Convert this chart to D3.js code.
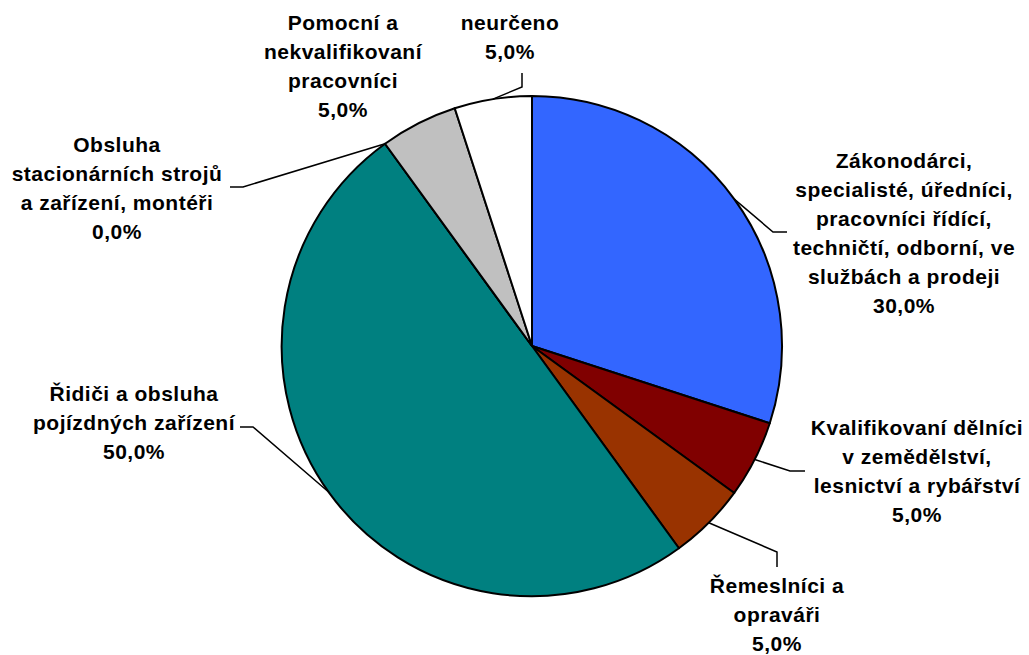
<!DOCTYPE html>
<html>
<head>
<meta charset="utf-8">
<script src="https://cdn.jsdelivr.net/npm/d3@7"></script>
<style>
  body { margin: 0; background: #fff; }
  svg { display: block; }
  text { font-family: "Liberation Sans", Arial, sans-serif; font-weight: bold; font-size: 21px; letter-spacing: 0.5px; fill: #000; }
</style>
</head>
<body>
<div id="chart"></div>
<script>
// data (clockwise from 12 o'clock)
var categories = [
	["Zákonodárci,", "specialisté, úředníci,", "pracovníci řídící,", "techničtí, odborní, ve", "službách a prodeji"],
	["Kvalifikovaní dělníci", "v zemědělství,", "lesnictví a rybářství"],
	["Řemeslníci a", "opraváři"],
	["Řidiči a obsluha", "pojízdných zařízení"],
	["Obsluha", "stacionárních strojů", "a zařízení, montéři"],
	["Pomocní a", "nekvalifikovaní", "pracovníci"],
	["neurčeno"]
]
var values = [30, 5, 5, 50, 0, 5, 5]
var colours = ["#3366ff", "#800000", "#993300", "#008080", "#9999ff", "#c0c0c0", "#ffffff"]

// label layout: text centre x, first baseline y, leader elbow + end (null = no leader)
var label_layout = [
	{x: 904, y: 168, elbow: [773, 232], end: [787, 232]},
	{x: 917, y: 435, elbow: [790, 471], end: [805, 471]},
	{x: 777, y: 593, elbow: [777, 552], end: [777, 567]},
	{x: 134, y: 401, elbow: [253, 427], end: [240, 427]},
	{x: 117, y: 152, elbow: [243, 187], end: [230, 187]},
	{x: 343, y: 30, elbow: null, end: null},
	{x: 510, y: 30, elbow: [522, 87], end: [522, 73]}
]

var width = 1029, height = 655
var cx = 532, cy = 346, radius = 250
var line_h = 29

var svg = d3.select("#chart").append("svg")
	.attr("width", width)
	.attr("height", height)

var pie = d3.pie().sort(null).value(function(d){ return d })
var arcs = pie(values)

var arc = d3.arc().innerRadius(0).outerRadius(radius)

var g = svg.append("g").attr("transform", "translate(" + cx + "," + cy + ")")

g.selectAll("path.slice")
	.data(arcs)
	.enter().append("path")
	.attr("class", "slice")
	.attr("d", arc)
	.attr("fill", function(d, i){ return colours[i] })
	.attr("stroke", "#000")
	.attr("stroke-width", 2)
	.attr("stroke-linejoin", "round")

// leader lines
arcs.forEach(function(d, i){
	var lay = label_layout[i]
	if (!lay.elbow) return
	var a = (d.startAngle + d.endAngle) / 2
	var sx = cx + radius * Math.sin(a), sy = cy - radius * Math.cos(a)
	svg.append("polyline")
		.attr("points", [[sx, sy], lay.elbow, lay.end].map(function(p){ return p.join(",") }).join(" "))
		.attr("fill", "none")
		.attr("stroke", "#000")
		.attr("stroke-width", 1.5)
})

// labels
arcs.forEach(function(d, i){
	var lay = label_layout[i]
	var lines = categories[i].concat([d3.format(".1f")(values[i]).replace(".", ",") + "%"])
	var t = svg.append("text")
		.attr("text-anchor", "middle")
		.attr("x", lay.x)
		.attr("y", lay.y)
	lines.forEach(function(l, k){
		t.append("tspan")
			.attr("x", lay.x)
			.attr("dy", k == 0 ? 0 : line_h)
			.text(l)
	})
})
</script>
</body>
</html>
